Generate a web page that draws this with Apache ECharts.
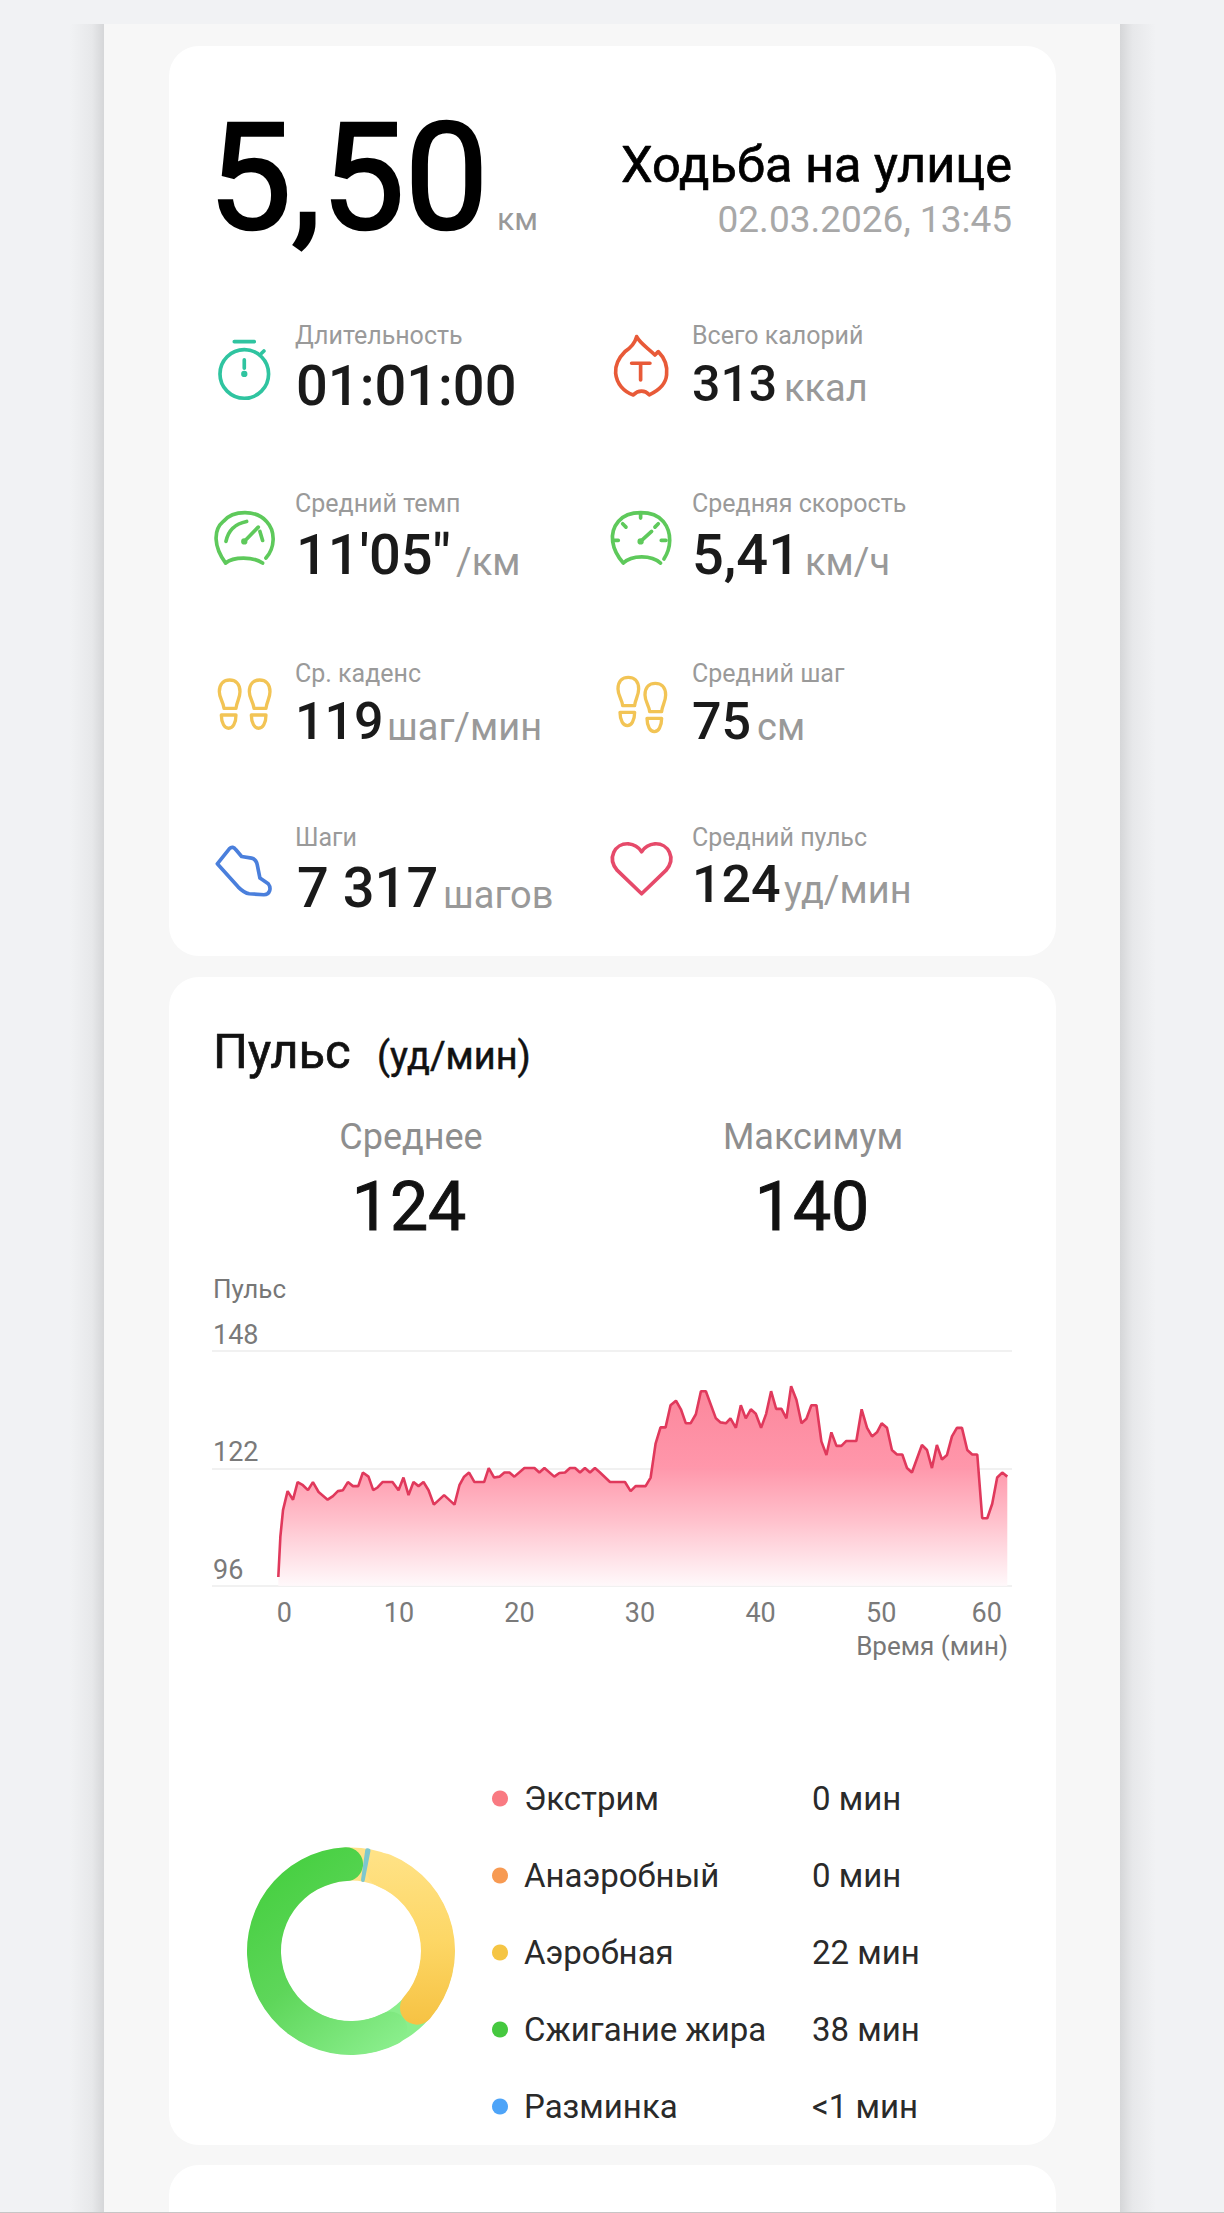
<!DOCTYPE html>
<html lang="ru">
<head>
<meta charset="utf-8">
<title>Ходьба на улице</title>
<style>html,body{margin:0;padding:0;background:#f1f2f4}#c{width:1224px;height:2213px}</style>
<script src="https://cdn.jsdelivr.net/npm/echarts@6/dist/echarts.min.js"></script>
</head>
<body>
<div id="c"></div>
<script>
// ---------- data ----------
const pulseMinutes = [0,0.17,0.39,0.77,1.22,1.60,2.04,2.46,2.87,3.34,4.09,4.53,4.94,5.36,5.77,6.19,6.63,7.01,7.48,7.87,8.23,8.64,9.47,9.97,10.38,10.80,11.21,11.63,12.04,12.46,12.90,13.75,14.61,15.02,15.41,15.82,16.27,17.07,17.45,17.90,18.34,18.75,19.17,19.58,20.41,21.24,21.65,22.07,22.89,23.31,23.78,24.19,24.61,25.02,25.43,25.85,26.26,26.68,27.51,28.75,29.22,29.63,30.46,30.88,31.29,31.70,32.12,32.53,32.98,33.39,33.80,34.19,34.63,35.05,35.46,36.29,36.68,37.12,37.50,37.95,38.36,38.77,39.19,39.60,40.04,40.46,40.87,41.29,41.73,42.14,42.53,42.97,43.39,43.80,44.21,44.63,45.04,45.46,45.87,46.29,46.70,47.11,47.94,48.38,48.83,49.24,49.65,50.04,50.48,50.89,51.31,51.75,52.14,52.55,53.38,53.80,54.21,54.62,55.04,55.46,55.87,56.28,56.70,57.14,57.55,57.97,58.38,58.80,59.21,59.62,60.04,60.46];
const pulseValues = [98,106.9,112.8,117,115.1,119,118.3,117.2,119,116.8,115.1,115.9,117,117.2,119,118.1,118.1,121.1,120.2,117.2,117.8,119,119,117.2,120,116.1,119,118.1,119,117.2,114,116.1,114,118.3,120.2,121.1,119,119,122.1,120,120.2,121.1,121.1,120.2,122.1,122.1,121.1,122.1,120.2,121,121.1,122.1,122.1,121.1,122.1,121.1,122.1,121.1,119,119,117,118.1,118.1,120,127.5,131.1,131.1,136,137,135.1,132,132,134,139.1,139.1,133.1,132.2,132,133.1,131,136,133.1,135.1,134.1,131,134.1,139.1,135.2,135.2,133.1,140.2,137.2,132,133,136,136,128,125,130,127,127,128.1,128.1,135.1,131,129.1,130,132,131,126.1,125.1,125.1,122.1,121.1,127.2,126.1,122.1,127.2,124,125,129.1,131,131,126.1,125.1,125.1,111,111,114.2,120,121.1,120.2];
const xTicks = [0,10,20,30,40,50,60];
const zoneNames = ['Экстрим','Анаэробный','Аэробная','Сжигание жира','Разминка'];
const zoneMinutes = [0,0,22,38,0.5];
const zoneLabels = ['0 мин','0 мин','22 мин','38 мин','<1 мин'];
const statNames = ['Длительность','Всего калорий','Средний темп','Средняя скорость','Ср. каденс','Средний шаг','Шаги','Средний пульс'];
const statValues = ['01:01:00','313',"11'05\"",'5,41','119','75','7 317','124'];
const statUnits = ['','ккал','/км','км/ч','шаг/мин','см','шагов','уд/мин'];

// ---------- layout (separate from data) ----------
const statLayout = [
  {lx:295,ly:335,vx:296,b:406,s:56,ux:0},
  {lx:692,ly:335,vx:692,b:401,s:50,ux:784},
  {lx:295,ly:503,vx:296,b:575,s:56,ux:456},
  {lx:692,ly:503,vx:692,b:575,s:56,ux:805},
  {lx:295,ly:673,vx:295,b:740,s:52,ux:387},
  {lx:692,ly:673,vx:692,b:740,s:52,ux:757},
  {lx:295,ly:837,vx:297,b:908,s:56,ux:443},
  {lx:692,ly:837,vx:692,b:903,s:52,ux:784}
];
const F = 'Roboto, sans-serif';
function txt(text,x,base,size,fill,weight,align,bold){
  const style={text,x,y:base-0.35*size,font:(weight||400)+' '+size+'px '+F,fill,align:align||'left',verticalAlign:'middle'};
  if(bold){style.stroke=fill;style.lineWidth=bold;}
  return {type:'text',silent:true,style};
}
let shapeCount=0;
function icon(d,ox,oy,stroke,lw){
  const name='iconShape'+(shapeCount++);
  echarts.graphic.registerShape(name,echarts.graphic.extendPath(d,{}));
  return {type:name,silent:true,x:ox,y:oy,scaleX:1/3,scaleY:1/3,style:{stroke,fill:'none',lineWidth:lw||11,lineCap:'round',lineJoin:'round'}};
}
function rect(x,y,w,h,fill,r){
  return {type:'rect',silent:true,shape:{x,y,width:w,height:h,r:r||0},style:{fill}};
}
const dot=(x,y)=>`M${x-4} ${y} a4 4 0 1 0 8 0 a4 4 0 1 0 -8 0`;
const sole='M0 35 C0 10 15 0 31 0 C47 0 62 10 62 35 C62 55 52 65 50 85 L14 85 C12 65 0 55 0 35 Z M6 105 L50 105 C50 130 40 145 28 145 C16 145 6 130 6 105 Z';
const YEL='#f2c455';
const shadowL=new echarts.graphic.LinearGradient(0,0,1,0,[{offset:0,color:'#f1f2f4'},{offset:.65,color:'#e7e8ea'},{offset:1,color:'#d5d6d8'}]);
const shadowR=new echarts.graphic.LinearGradient(1,0,0,0,[{offset:0,color:'#f1f2f4'},{offset:.65,color:'#e7e8ea'},{offset:1,color:'#d5d6d8'}]);

const gfx=[
  rect(0,0,1224,2213,'#f1f2f4'),
  rect(70,24,34,2189,shadowL),
  rect(1120,24,36,2189,shadowR),
  rect(104,24,1016,2189,'#f7f7f7'),
  rect(169,46,887,910,'#ffffff',30),
  rect(169,977,887,1168,'#ffffff',30),
  rect(169,2165,887,80,'#ffffff',30),
  rect(0,2212,1224,1,'#c6c6c6'),
  txt('5,50',208,230,149,'#000000',400,'left',2.5),
  txt('км',497,230,32,'#999999',400),
  txt('Ходьба на улице',1012,182,50.5,'#000000',400,'right',0.7),
  txt('02.03.2026, 13:45',1012,232,37,'#a8a8a8',400,'right'),
  txt('Пульс',213,1069,49,'#111111',400,'left',0.7),
  txt('(уд/мин)',377,1069,38,'#111111',400,'left',0.5),
  txt('Среднее',411,1150,36,'#8e8e8e',400,'center'),
  txt('Максимум',813,1150,36,'#8e8e8e',400,'center'),
  txt('124',409,1231,68,'#111111',400,'center',1),
  txt('140',812,1231,68,'#111111',400,'center',1),
  txt('Пульс',213,1298,26,'#777777',400),
  // stopwatch
  icon('M236 222 A73 73 0 1 1 90 222 A73 73 0 1 1 236 222 M133 125 L193 125 M215 160 L222 153 M163 180 L163 205 '+dot(163,222),190,300,'#2fc4a0'),
  // flame
  icon('M140 110 C150 130 175 145 195 165 L205 155 C225 175 233 200 230 225 C228 250 210 270 178 285 C165 270 145 270 130 285 C100 275 80 250 77 220 C75 195 90 170 105 155 C120 145 135 130 140 110 Z M125 190 L180 190 M152 190 L152 240',590,300,'#e85a38'),
  // pace gauge
  icon('M107 790 C130 770 190 770 218 790 M107 790 C70 740 70 690 100 665 C130 630 200 630 230 665 C258 695 255 745 228 775 M108 725 C115 690 135 672 170 665 M210 695 L218 722 M163 725 L205 682 '+dot(163,725),190,300,'#5ec95b'),
  // speed gauge
  icon('M100 790 C125 765 185 765 212 790 M100 790 C65 750 55 700 85 665 C115 630 190 630 220 665 C248 700 243 745 222 778 M152 640 L152 655 M72 722 L85 722 M228 722 L214 722 M98 672 L108 682 M205 672 L195 682 M152 725 L185 695 '+dot(152,725),590,300,'#5ec95b'),
  // footprints
  icon(sole,190+88/3,640+120/3,YEL,10),
  icon(sole,190+178/3,640+120/3,YEL,10),
  icon(sole,590+84/3,640+112/3,YEL,10),
  icon(sole,590+165/3,640+130/3,YEL,10),
  // shoe
  icon('M82 672 L118 627 C125 620 132 622 138 630 L155 650 L185 655 C195 657 200 665 202 675 L210 715 L235 732 C245 745 240 765 222 765 L178 762 C165 760 155 752 145 742 Z',190,640,'#4a7fdc'),
  // heart
  icon('M155 762 L82 692 C50 655 75 610 115 612 C135 614 148 625 155 636 C162 625 175 614 195 612 C235 610 260 655 228 692 Z',590,640,'#e64a6a')
];
statNames.forEach((n,i)=>{
  const L=statLayout[i];
  gfx.push(txt(n,L.lx,L.ly+9,25,'#9a9a9a',400));
  gfx.push(txt(statValues[i],L.vx,L.b,L.s,'#1a1a1a',500));
  if(statUnits[i]) gfx.push(txt(statUnits[i],L.ux,L.b,38,'#999999',400));
});

const chart=echarts.init(document.getElementById('c'),null,{renderer:'svg',width:1224,height:2213});
const zoneColors=['#f97a82','#f79a52','#f5c544','#45c83f','#4ea4f8'];
const yellowFill=new echarts.graphic.LinearGradient(0,0,0,1,[{offset:0,color:'#ffe286'},{offset:.5,color:'#fdd766'},{offset:1,color:'#f6c243'}]);
const greenFill=new echarts.graphic.LinearGradient(.25,0,.85,1,[{offset:0,color:'#45cf3f'},{offset:.5,color:'#5ed65a'},{offset:1,color:'#8aee8c'}]);
chart.setOption({
  animation:false,
  graphic:{elements:gfx},
  grid:{left:212,top:1351,width:800,height:235,containLabel:false},
  xAxis:{type:'value',min:-5.5,max:60.85,
    name:'Время (мин)',nameLocation:'end',nameGap:-4,nameMoveOverlap:false,
    nameTextStyle:{color:'#777777',fontSize:26,fontFamily:F,align:'right',verticalAlign:'top',padding:[47,0,0,0]},
    axisLine:{show:false},axisTick:{show:false},splitLine:{show:false},
    axisLabel:{customValues:xTicks,margin:13,color:'#7a7a7a',fontSize:27,fontFamily:F,
      formatter:v=>v===0?'{a|0}':(v===60?'{b|60}':String(v)),
      rich:{a:{fontSize:27,fontFamily:F,color:'#7a7a7a',padding:[0,0,0,12]},b:{fontSize:27,fontFamily:F,color:'#7a7a7a',padding:[0,30,0,0]}}}},
  yAxis:{type:'value',min:96,max:148,interval:26,
    axisLine:{show:false},axisTick:{show:false},
    splitLine:{show:true,lineStyle:{color:'#ececec',width:1.5}},
    axisLabel:{inside:true,margin:1,color:'#7a7a7a',fontSize:27,fontFamily:F,verticalAlign:'bottom',padding:[0,0,3,0]}},
  legend:{orient:'vertical',left:487,top:1777,icon:'circle',itemWidth:16,itemHeight:16,itemGap:44,selectedMode:false,
    data:zoneNames.map((n,i)=>({name:n,icon:'circle',itemStyle:{color:zoneColors[i]}})),
    formatter:n=>`{n|${n}}{v|${zoneLabels[zoneNames.indexOf(n)]}}`,
    textStyle:{rich:{
      n:{fontSize:33,fontFamily:F,color:'#2a2a2a',width:288,lineHeight:30,padding:[0,0,0,11]},
      v:{fontSize:33,fontFamily:F,color:'#2a2a2a',lineHeight:30}}}},
  series:[
    {name:'Кольцо-подложка',type:'pie',silent:true,z:1,center:[351,1951],radius:[70.5,103.5],startAngle:180,label:{show:false},labelLine:{show:false},
      data:[{value:1,name:'yellow-under',itemStyle:{color:'#ffe286'}},{value:1,name:'green-under',itemStyle:{color:'#8aee8c'}}]},
    {name:'Пульсовые зоны',type:'pie',silent:true,z:2,center:[351,1951],radius:[70,104],startAngle:79,clockwise:true,avoidLabelOverlap:false,
      label:{show:false},labelLine:{show:false},
      itemStyle:{borderRadius:17},
      data:zoneNames.map((n,i)=>({name:n,value:zoneMinutes[i],itemStyle:
        i===2?{color:yellowFill}:i===3?{color:greenFill}:i===4?{color:'#7cc7cf',borderRadius:2}:{color:zoneColors[i]}}))},
    {name:'Пульс',type:'line',silent:true,z:3,symbol:'none',smooth:false,
      data:pulseMinutes.map((m,i)=>[m,pulseValues[i]]),
      lineStyle:{color:'#e0395c',width:2.6},
      areaStyle:{opacity:1,color:new echarts.graphic.LinearGradient(0,0,0,1,[{offset:0,color:'rgba(251,128,150,.95)'},{offset:.4,color:'rgba(255,145,166,.95)'},{offset:.67,color:'rgba(255,189,201,.95)'},{offset:1,color:'rgba(255,248,250,.9)'}])}}
  ]
});
</script>
</body>
</html>
